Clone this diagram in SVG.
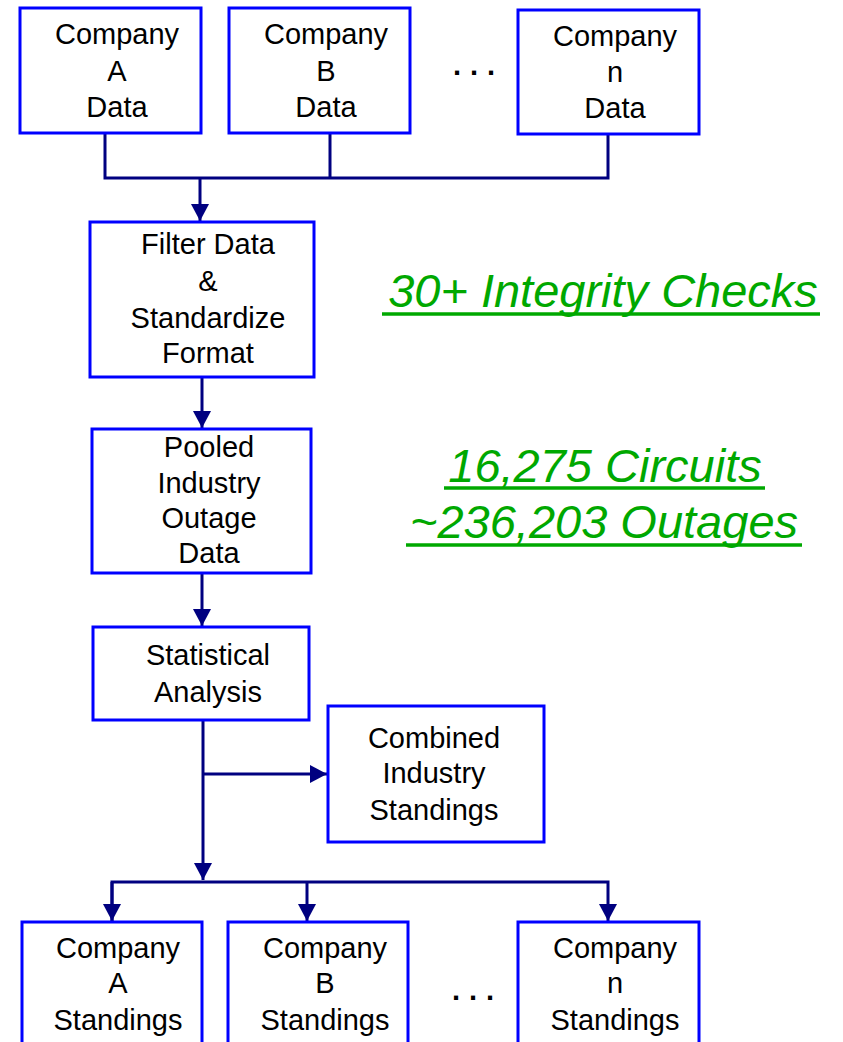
<svg xmlns="http://www.w3.org/2000/svg" width="843" height="1042" viewBox="0 0 843 1042">
<style>
.box{fill:#ffffff;stroke:#0000ff;stroke-width:3}
.lbl{font-family:"Liberation Sans",Arial,sans-serif;font-size:29px;fill:#000000;text-anchor:middle}
.dots{font-family:"Liberation Sans",Arial,sans-serif;font-size:29px;font-weight:bold;fill:#000000;letter-spacing:9px}
.note{font-family:"Liberation Sans",Arial,sans-serif;font-size:47px;font-style:italic;fill:#00a800;text-anchor:middle}
.uline{stroke:#00a800;stroke-width:3.5;fill:none}
.conn{fill:none;stroke:#000080;stroke-width:3}
</style>
<defs>
<marker id="arr" markerUnits="userSpaceOnUse" markerWidth="18" markerHeight="18" refX="17" refY="9" orient="auto">
<path d="M0,0 L17,9 L0,18 z" fill="#000080"/>
</marker>
</defs>
<rect width="843" height="1042" fill="#ffffff"/>
<g id="connectors">
<path class="conn" d="M105,133 V178 H608 V134"/>
<path class="conn" d="M330,133 V178"/>
<path class="conn" d="M200,178 V221" marker-end="url(#arr)"/>
<path class="conn" d="M202,377 V428" marker-end="url(#arr)"/>
<path class="conn" d="M202,573 V626" marker-end="url(#arr)"/>
<path class="conn" d="M203,720 V880" marker-end="url(#arr)"/>
<path class="conn" d="M203,774 H327" marker-end="url(#arr)"/>
<path class="conn" d="M112,921 V882 H608 V921" marker-end="url(#arr)"/>
<path class="conn" d="M112,882 V921" marker-end="url(#arr)"/>
<path class="conn" d="M307,882 V921" marker-end="url(#arr)"/>
</g>
<g id="companyA-data">
<rect class="box" x="20" y="8" width="181" height="125"/>
<text class="lbl" x="117" y="44">Company</text>
<text class="lbl" x="117" y="81">A</text>
<text class="lbl" x="117" y="117">Data</text>
</g>
<g id="companyB-data">
<rect class="box" x="229" y="8" width="181" height="125"/>
<text class="lbl" x="326" y="44">Company</text>
<text class="lbl" x="326" y="81">B</text>
<text class="lbl" x="326" y="117">Data</text>
</g>
<text class="dots" x="453" y="75">...</text>
<g id="companyN-data">
<rect class="box" x="518" y="10" width="181" height="124"/>
<text class="lbl" x="615" y="46">Company</text>
<text class="lbl" x="615" y="82">n</text>
<text class="lbl" x="615" y="118">Data</text>
</g>
<g id="filter">
<rect class="box" x="90" y="222" width="224" height="155"/>
<text class="lbl" x="208" y="254">Filter Data</text>
<text class="lbl" x="208" y="291">&amp;</text>
<text class="lbl" x="208" y="328">Standardize</text>
<text class="lbl" x="208" y="363">Format</text>
</g>
<g id="pooled">
<rect class="box" x="92" y="429" width="219" height="144"/>
<text class="lbl" x="209" y="457">Pooled</text>
<text class="lbl" x="209" y="493">Industry</text>
<text class="lbl" x="209" y="528">Outage</text>
<text class="lbl" x="209" y="563">Data</text>
</g>
<g id="statistical">
<rect class="box" x="93" y="627" width="216" height="93"/>
<text class="lbl" x="208" y="665">Statistical</text>
<text class="lbl" x="208" y="702">Analysis</text>
</g>
<g id="combined">
<rect class="box" x="328" y="706" width="216" height="136"/>
<text class="lbl" x="434" y="748">Combined</text>
<text class="lbl" x="434" y="783">Industry</text>
<text class="lbl" x="434" y="820">Standings</text>
</g>
<g id="notes">
<text class="note" x="603" y="307">30+ Integrity Checks</text>
<path class="uline" d="M382,314 H820"/>
<text class="note" x="605" y="482">16,275 Circuits</text>
<path class="uline" d="M444,488 H765"/>
<text class="note" x="604" y="538">~236,203 Outages</text>
<path class="uline" d="M406,545 H802"/>
</g>
<g id="companyA-standings">
<rect class="box" x="22" y="922" width="180" height="130"/>
<text class="lbl" x="118" y="958">Company</text>
<text class="lbl" x="118" y="993">A</text>
<text class="lbl" x="118" y="1030">Standings</text>
</g>
<g id="companyB-standings">
<rect class="box" x="228" y="922" width="180" height="130"/>
<text class="lbl" x="325" y="958">Company</text>
<text class="lbl" x="325" y="993">B</text>
<text class="lbl" x="325" y="1030">Standings</text>
</g>
<text class="dots" x="452" y="1000">...</text>
<g id="companyN-standings">
<rect class="box" x="518" y="922" width="181" height="130"/>
<text class="lbl" x="615" y="958">Company</text>
<text class="lbl" x="615" y="993">n</text>
<text class="lbl" x="615" y="1030">Standings</text>
</g>
</svg>
